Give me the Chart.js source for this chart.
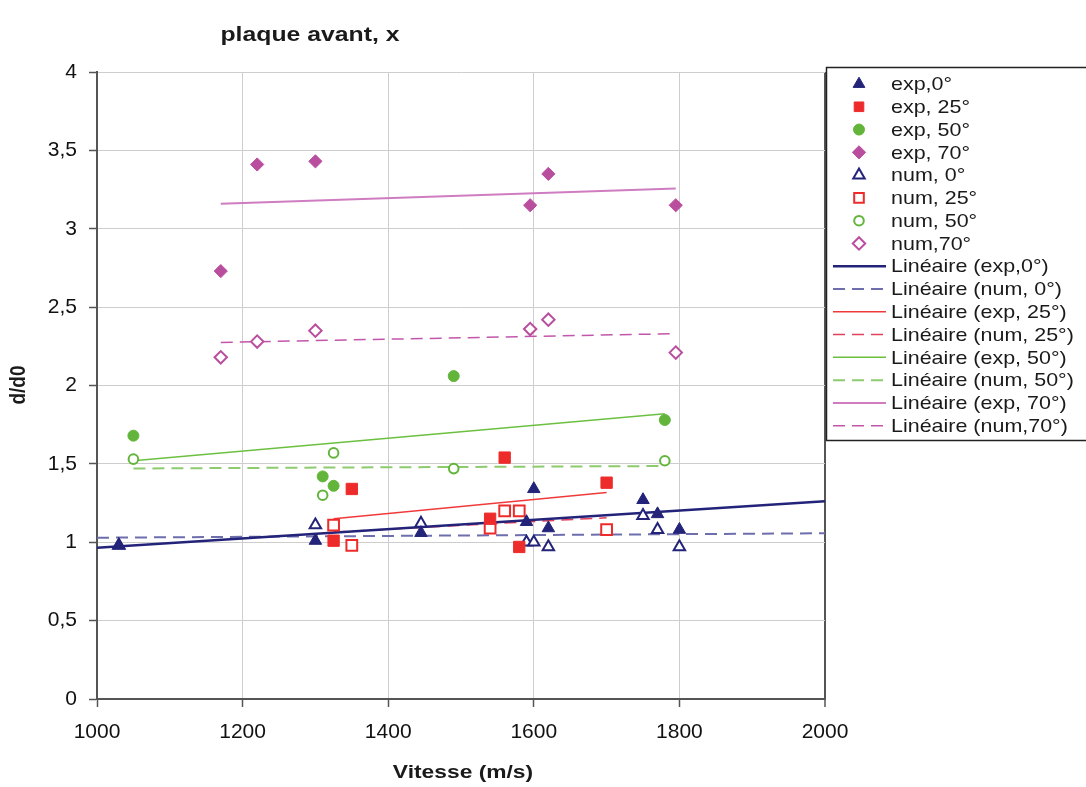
<!DOCTYPE html>
<html>
<head>
<meta charset="utf-8">
<script src="https://cdn.jsdelivr.net/npm/chart.js@4.4.0/dist/chart.umd.min.js"></script>
<style>
  html, body { margin: 0; padding: 0; background: #ffffff; }
  #wrap { width: 1086px; height: 787px; position: relative; }
</style>
</head>
<body>
<div id="wrap"><canvas id="c" width="1086" height="787"></canvas></div>
<script>
// Vitesse d'impact (m/s) et rapport d/d0, par angle d'incidence
const speed0  = [1030, 1300, 1445, 1590, 1600, 1620, 1750, 1770, 1800];
const exp0    = [0.98, 1.01, 1.06, 1.13, 1.34, 1.09, 1.27, 1.18, 1.08];
const num0    = [0.98, 1.11, 1.12, 1.00, 1.00, 0.97, 1.17, 1.08, 0.97];

const speed25 = [1325, 1350, 1540, 1560, 1580, 1700];
const exp25   = [1.01, 1.34, 1.15, 1.54, 0.97, 1.38];
const num25   = [1.11, 0.98, 1.09, 1.20, 1.20, 1.08];

const speed50 = [1050, 1310, 1325, 1490, 1780];
const exp50   = [1.68, 1.42, 1.36, 2.06, 1.78];
const num50   = [1.53, 1.30, 1.57, 1.47, 1.52];

const speed70 = [1170, 1220, 1300, 1595, 1620, 1795];
const exp70   = [2.73, 3.41, 3.43, 3.15, 3.35, 3.15];
const num70   = [2.18, 2.28, 2.35, 2.36, 2.42, 2.21];

// Étendue des courbes de tendance à 0° (prolongées sur tout l'axe)
const trendSpan0 = [1000, 2000];

const xTicks = { min: 1000, max: 2000, step: 200 };
const yTicks = { min: 0, max: 4, step: 0.5 };

const FONT = '"Liberation Sans", Arial, sans-serif';
const NAVY = '#23237A', RED = '#EE2B2B', GREEN = '#62B53A', MAGENTA = '#BA4E9E';

function pts(xs, ys) { return xs.map((x, i) => ({ x: x, y: ys[i] })); }

// Droite des moindres carrés, évaluée aux bornes demandées
function linear(xs, ys, span) {
  const n = xs.length;
  const mx = xs.reduce((a, b) => a + b, 0) / n;
  const my = ys.reduce((a, b) => a + b, 0) / n;
  let sxy = 0, sxx = 0;
  for (let i = 0; i < n; i++) { sxy += (xs[i] - mx) * (ys[i] - my); sxx += (xs[i] - mx) ** 2; }
  const b = sxy / sxx, a = my - b * mx;
  const lo = span ? span[0] : Math.min(...xs);
  const hi = span ? span[1] : Math.max(...xs);
  return [{ x: lo, y: a + b * lo }, { x: hi, y: a + b * hi }];
}

function marker(label, xs, ys, style, color, radius, filled, order) {
  return {
    label: label, data: pts(xs, ys), showLine: false,
    pointStyle: style, pointRadius: radius, pointHoverRadius: radius,
    pointBackgroundColor: filled ? color : '#ffffff',
    pointBorderColor: color, pointBorderWidth: filled ? 1 : 2,
    backgroundColor: filled ? color : '#ffffff', borderColor: color,
    order: order
  };
}

function trend(label, xs, ys, color, width, dash, span) {
  return {
    label: label, data: linear(xs, ys, span), showLine: true,
    borderColor: color, borderWidth: width, borderDash: dash,
    pointRadius: 0, pointHoverRadius: 0, fill: false, order: 10
  };
}

const DASH = [12, 7];
const datasets = [
  marker('exp,0°',   speed0,  exp0,  'triangle', NAVY,    7.2, true, 1),
  marker('exp, 25°', speed25, exp25, 'rect',     RED,     8,   true, 1),
  marker('exp, 50°', speed50, exp50, 'circle',   GREEN,   5.5, true, 1),
  marker('exp, 70°', speed70, exp70, 'rectRot',  MAGENTA, 6.6, true, 1),
  marker('num, 0°',  speed0,  num0,  'triangle', NAVY,    6.6, false, 5),
  marker('num, 25°', speed25, num25, 'rect',     RED,     7.6, false, 5),
  marker('num, 50°', speed50, num50, 'circle',   GREEN,   4.8, false, 5),
  marker('num,70°',  speed70, num70, 'rectRot',  MAGENTA, 6.2, false, 5),
  trend('Linéaire (exp,0°)',   speed0,  exp0,  NAVY,      2.5, [],   trendSpan0),
  trend('Linéaire (num, 0°)',  speed0,  num0,  '#6E6EAD', 2,   DASH, trendSpan0),
  trend('Linéaire (exp, 25°)', speed25, exp25, '#F03A3A', 1.5, []),
  trend('Linéaire (num, 25°)', speed25, num25, '#E0405A', 1.5, DASH),
  trend('Linéaire (exp, 50°)', speed50, exp50, '#6CC040', 1.5, []),
  trend('Linéaire (num, 50°)', speed50, num50, '#8DCB6E', 2,   DASH),
  trend('Linéaire (exp, 70°)', speed70, exp70, '#CF7CC0', 2,   []),
  trend('Linéaire (num,70°)',  speed70, num70, '#C256AA', 1.5, DASH)
];

// Texte étiré horizontalement (police large du graphique d'origine)
function wideText(ctx, text, x, y, sx, align) {
  ctx.save();
  ctx.translate(x, y);
  ctx.scale(sx, 1);
  ctx.textAlign = align || 'left';
  ctx.fillText(text, 0, 0);
  ctx.restore();
}

const decor = {
  id: 'decor',
  afterDraw(chart) {
    const ctx = chart.ctx;
    ctx.save();
    ctx.fillStyle = '#1a1a1a';
    ctx.textBaseline = 'alphabetic';

    // Titre
    ctx.font = 'bold 21px ' + FONT;
    wideText(ctx, 'plaque avant, x', 310, 41, 1.18, 'center');

    // Titres des axes
    ctx.font = 'bold 19px ' + FONT;
    ctx.textBaseline = 'middle';
    wideText(ctx, 'Vitesse (m/s)', 463, 773, 1.2, 'center');
    ctx.save();
    ctx.translate(19, 385);
    ctx.rotate(-Math.PI / 2);
    ctx.scale(1, 1.15);
    ctx.textAlign = 'center';
    ctx.fillText('d/d0', 0, 0);
    ctx.restore();

    // Légende
    ctx.strokeStyle = '#222';
    ctx.lineWidth = 1.5;
    ctx.strokeRect(826.5, 67.5, 300, 373);

    const top = 84, step = 22.78;
    ctx.font = '19px ' + FONT;
    chart.data.datasets.forEach((ds, i) => {
      const y = top + i * step;
      if (ds.showLine) {
        ctx.save();
        ctx.strokeStyle = ds.borderColor;
        ctx.lineWidth = ds.borderWidth;
        ctx.setLineDash(ds.borderDash || []);
        ctx.beginPath();
        ctx.moveTo(833, y);
        ctx.lineTo(886, y);
        ctx.stroke();
        ctx.restore();
      } else {
        ctx.save();
        ctx.fillStyle = ds.pointBackgroundColor;
        ctx.strokeStyle = ds.pointBorderColor;
        ctx.lineWidth = ds.pointBorderWidth;
        Chart.helpers.drawPoint(ctx, {
          pointStyle: ds.pointStyle, rotation: 0,
          radius: Math.min(ds.pointRadius, 6.8), borderWidth: ds.pointBorderWidth
        }, 859, y);
        ctx.restore();
      }
      ctx.fillStyle = '#1a1a1a';
      ctx.textBaseline = 'middle';
      wideText(ctx, ds.label, 891, y + 1, 1.13, 'left');
    });
    ctx.restore();
  }
};

new Chart(document.getElementById('c'), {
  type: 'scatter',
  data: { datasets: datasets },
  options: {
    responsive: false,
    animation: false,
    devicePixelRatio: 1,
    layout: { padding: { top: 72, right: 261, left: 0, bottom: 0 } },
    plugins: {
      legend: { display: false },
      tooltip: { enabled: false },
      title: { display: false }
    },
    scales: {
      x: {
        type: 'linear', min: xTicks.min, max: xTicks.max,
        ticks: {
          stepSize: xTicks.step, color: '#111', font: { family: FONT, size: 21 }, padding: 13,
          callback: v => String(v)
        },
        grid: {
          color: c => (c.tick && c.tick.value === xTicks.max) ? '#555' : '#CDCDCD',
          lineWidth: c => (c.tick && c.tick.value === xTicks.max) ? 2 : 1,
          tickLength: 8, tickColor: '#555', tickWidth: 1.5
        },
        border: { color: '#555', width: 2 },
        afterFit: s => { s.height = 88; }
      },
      y: {
        type: 'linear', min: yTicks.min, max: yTicks.max,
        ticks: {
          stepSize: yTicks.step, color: '#111', font: { family: FONT, size: 21 }, padding: 12,
          callback: v => String(v).replace('.', ',')
        },
        grid: { color: '#CDCDCD', lineWidth: 1, tickLength: 8, tickColor: '#555', tickWidth: 1.5 },
        border: { color: '#555', width: 2 },
        afterFit: s => { s.width = 97; }
      }
    }
  },
  plugins: [decor]
});
</script>
</body>
</html>
